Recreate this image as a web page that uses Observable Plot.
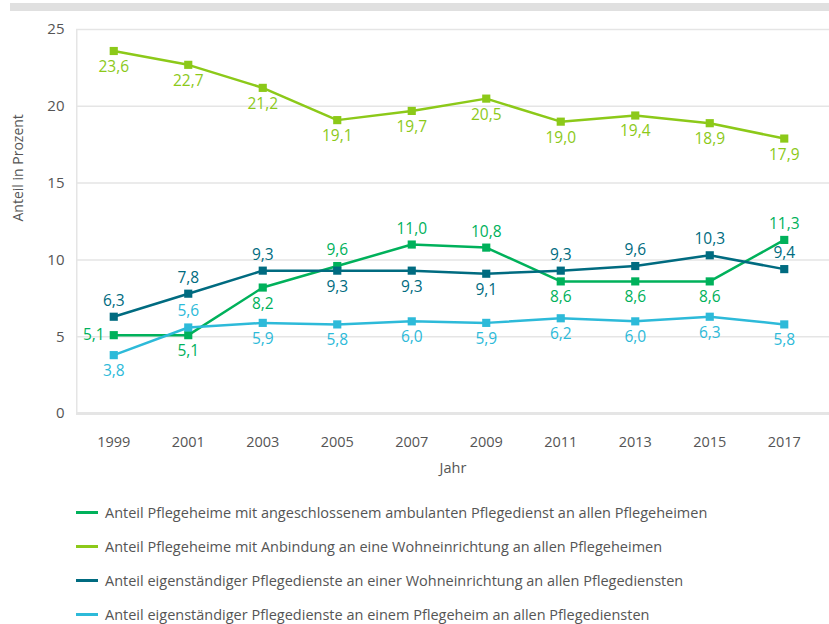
<!DOCTYPE html>
<html><head><meta charset="utf-8">
<script src="https://cdn.jsdelivr.net/npm/d3@7"></script>
<script src="https://cdn.jsdelivr.net/npm/@observablehq/plot@0.6"></script>
<style>
body{margin:0;background:#fff;font-family:"Open Sans",sans-serif;}
#bar{margin:3px 0 0 10px;height:8px;background:#e0e0e0;width:819px;}
#legend{padding:4px 0 0 76px;}
.row{height:34px;display:flex;align-items:center;font-size:14.5px;color:#555;}
.sw{width:22px;height:3px;margin-right:7px;}
</style></head><body>
<div id="bar"></div>
<div id="chart"></div>
<div id="legend"></div>
<script>
const years = [1999, 2001, 2003, 2005, 2007, 2009, 2011, 2013, 2015, 2017];
const seriesNames = [
  "Anteil Pflegeheime mit angeschlossenem ambulanten Pflegedienst an allen Pflegeheimen",
  "Anteil Pflegeheime mit Anbindung an eine Wohneinrichtung an allen Pflegeheimen",
  "Anteil eigenständiger Pflegedienste an einer Wohneinrichtung an allen Pflegediensten",
  "Anteil eigenständiger Pflegedienste an einem Pflegeheim an allen Pflegediensten"
];
const colors = ["#00b15b", "#8cc919", "#006b80", "#2dbad9"];
const ambulant = [5.1, 5.1, 8.2, 9.6, 11.0, 10.8, 8.6, 8.6, 8.6, 11.3];
const wohnHeim = [23.6, 22.7, 21.2, 19.1, 19.7, 20.5, 19.0, 19.4, 18.9, 17.9];
const dienstWohn = [6.3, 7.8, 9.3, 9.3, 9.3, 9.1, 9.3, 9.6, 10.3, 9.4];
const dienstHeim = [3.8, 5.6, 5.9, 5.8, 6.0, 5.9, 6.2, 6.0, 6.3, 5.8];
const labelPlace = [
  ["left","below","below","above","above","above","below","below","below","above"],
  ["below","below","below","below","below","below","below","below","below","below"],
  ["above","above","above","below","below","below","above","above","above","above"],
  ["below","above","below","below","below","below","below","below","below","below"]
];
const yTicks = [0, 5, 10, 15, 20, 25];

const allValues = [ambulant, wohnHeim, dienstWohn, dienstHeim];
const data = [];
allValues.forEach((vals, s) => vals.forEach((v, i) => data.push({
  series: seriesNames[s], year: years[i], value: v, place: labelPlace[s][i]
})));
const fmt = v => v.toFixed(1).replace(".", ",");

const chart = Plot.plot({
  width: 829, height: 480,
  marginLeft: 76, marginRight: 0, marginTop: 18, marginBottom: 78,
  style: {fontFamily: "Open Sans, sans-serif", fontSize: "14px", color: "#555", background: "#fff"},
  x: {type: "point", domain: years, padding: 0.5, insetRight: 8, round: false, label: null},
  y: {domain: [0, 25], label: null},
  color: {domain: seriesNames, range: colors},
  marks: [
    Plot.ruleY(yTicks, {stroke: "#e5e5e5", strokeWidth: 1.5}),
    Plot.ruleY([0], {stroke: "#e5e5e5", strokeWidth: 3}),
    Plot.ruleX([years[0]], {y1: 0, y2: 25, stroke: "#e5e5e5", strokeWidth: 1.5, dx: -37}),
    Plot.axisY({ticks: yTicks, tickSize: 0, tickPadding: 12, fontSize: 15, fill: "#555"}),
    Plot.axisX({tickSize: 0, tickPadding: 23, tickFormat: d => String(d), fill: "#555", fontSize: 14.5}),
    Plot.text(["Anteil in Prozent"], {frameAnchor: "left", rotate: -90, dx: -58, fill: "#555", fontSize: 14}),
    Plot.text(["Jahr"], {frameAnchor: "bottom", dy: 59, fill: "#555", fontSize: 14.5}),
    Plot.line(data, {x: "year", y: "value", z: "series", stroke: "series", strokeWidth: 2.5}),
    Plot.dot(data, {x: "year", y: "value", fill: "series", symbol: "square", r: 4.6}),
    Plot.text(data.filter(d => d.place === "above"), {x: "year", y: "value", text: d => fmt(d.value), fill: "series", dy: -16, fontSize: 15.5}),
    Plot.text(data.filter(d => d.place === "below"), {x: "year", y: "value", text: d => fmt(d.value), fill: "series", dy: 16, fontSize: 15.5}),
    Plot.text(data.filter(d => d.place === "left"), {x: "year", y: "value", text: d => fmt(d.value), fill: "series", dx: -9, textAnchor: "end", fontSize: 15.5})
  ]
});
document.getElementById("chart").appendChild(chart);

const legend = document.getElementById("legend");
seriesNames.forEach((n, i) => {
  const row = document.createElement("div");
  row.className = "row";
  row.innerHTML = `<div class="sw" style="background:${colors[i]}"></div><span>${n}</span>`;
  legend.appendChild(row);
});
</script>
</body></html>
